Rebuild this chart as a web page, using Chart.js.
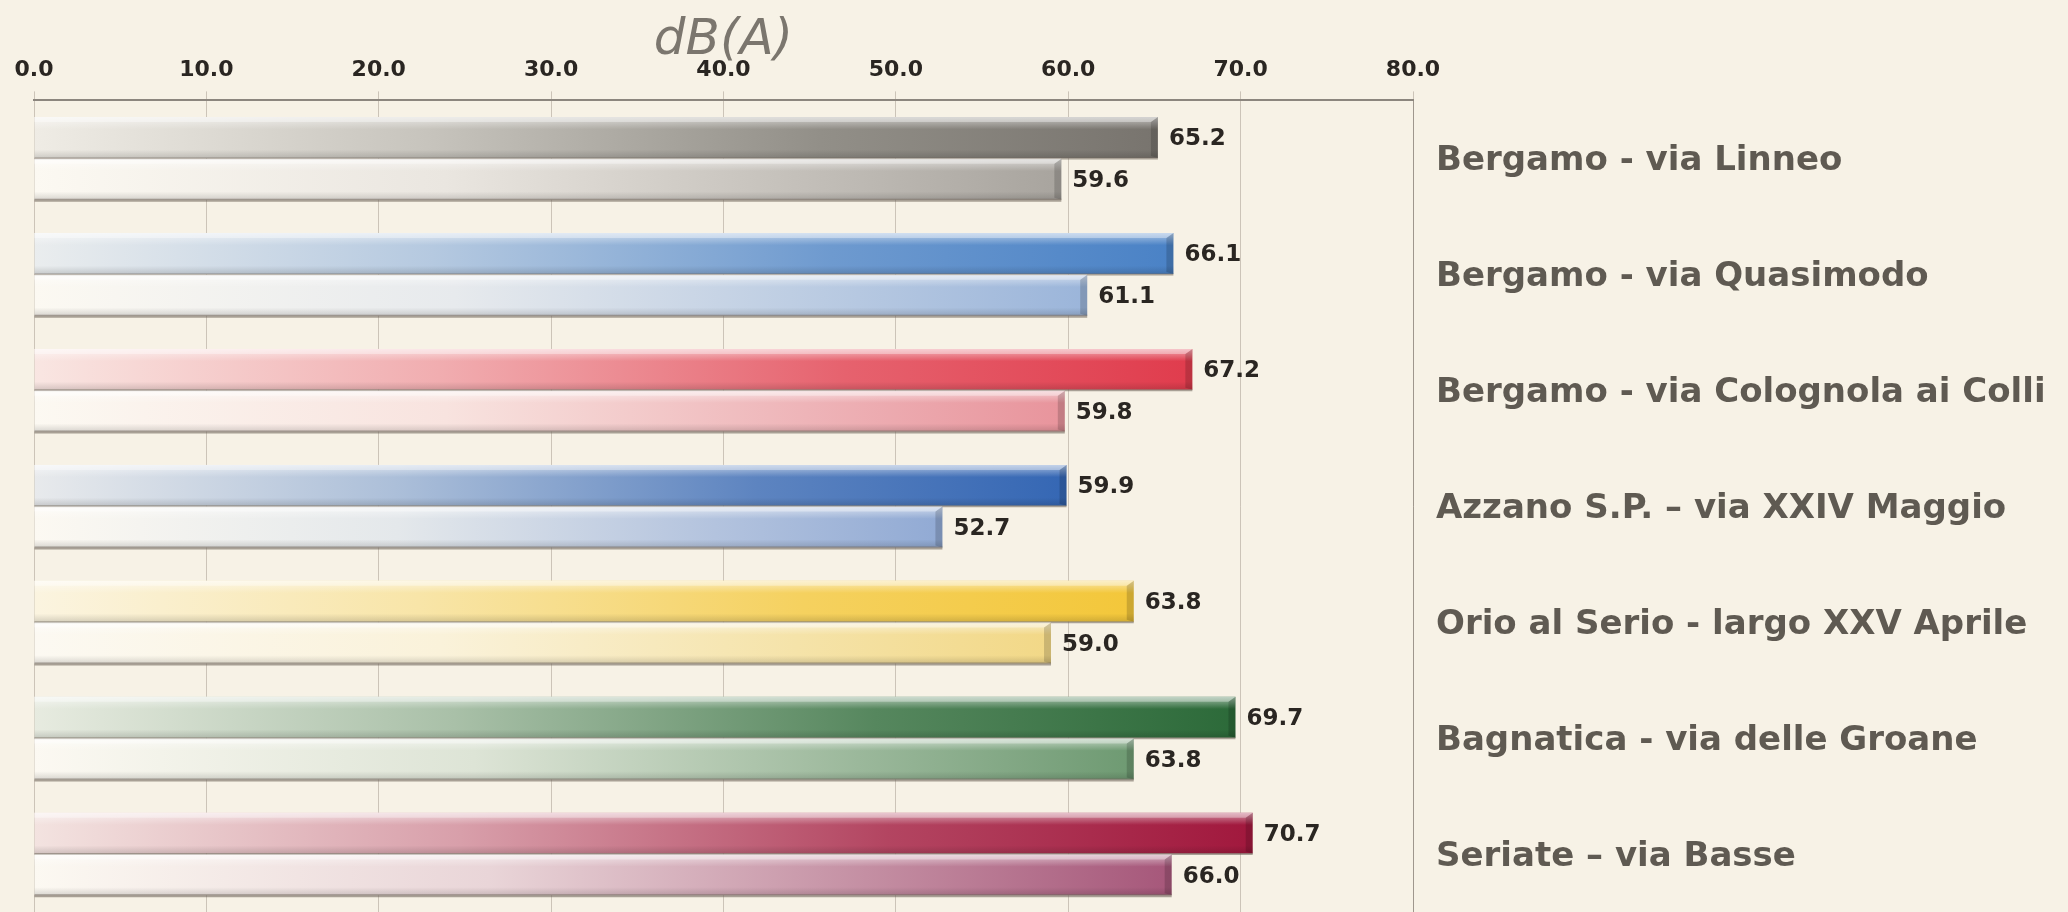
<!DOCTYPE html>
<html>
<head>
<meta charset="utf-8">
<script src="https://cdn.jsdelivr.net/npm/chart.js@4.4.1/dist/chart.umd.min.js"></script>
<style>
  html, body { margin: 0; padding: 0; background: #f7f2e6; }
  #wrap { width: 2068px; height: 912px; position: relative; }
</style>
</head>
<body>
<div id="wrap"><canvas id="c"></canvas></div>
<script>
const categories = [
  'Bergamo - via Linneo',
  'Bergamo - via Quasimodo',
  'Bergamo - via Colognola ai Colli',
  'Azzano S.P. \u2013 via XXIV Maggio',
  'Orio al Serio - largo XXV Aprile',
  'Bagnatica - via delle Groane',
  'Seriate \u2013 via Basse'
];
const seriesA = [65.2, 66.1, 67.2, 59.9, 63.8, 69.7, 70.7];
const seriesB = [59.6, 61.1, 59.8, 52.7, 59.0, 63.8, 66.0];
const xTickMin = 0, xTickMax = 80, xTickStep = 10;
const axisTitle = 'dB(A)';

const darkColors  = ['#78746e', '#4a82c6', '#e03c4d', '#3567b4', '#f3c73a', '#2c6a39', '#a1183d'];
const lightColors = ['#a8a49e', '#9bb5da', '#e8949c', '#91aad4', '#f2d887', '#6e9a72', '#a6577a'];

function hexToRgb(h) {
  h = h.replace('#', '');
  return [parseInt(h.substr(0,2),16), parseInt(h.substr(2,2),16), parseInt(h.substr(4,2),16)];
}
function mix(hex, t) {
  const c = hexToRgb(hex);
  const w = [252, 249, 242];
  const r = c.map((v, i) => Math.round(w[i] + (v - w[i]) * t));
  return 'rgb(' + r.join(',') + ')';
}

function makeBg(colors, stops) {
  return function(ctx) {
    const chart = ctx.chart;
    const area = chart.chartArea;
    const col = colors[ctx.dataIndex];
    if (!area || ctx.raw === undefined) return col;
    const xs = chart.scales.x;
    const x0 = xs.getPixelForValue(0);
    const x1 = xs.getPixelForValue(ctx.raw);
    const g = chart.ctx.createLinearGradient(x0, 0, Math.max(x1, x0 + 1), 0);
    stops.forEach(s => g.addColorStop(s[0], mix(col, s[1])));
    return g;
  };
}

const barFx = {
  id: 'barFx',
  afterDatasetsDraw(chart) {
    const ctx = chart.ctx;
    chart.data.datasets.forEach((ds, di) => {
      const meta = chart.getDatasetMeta(di);
      meta.data.forEach((el, i) => {
        const p = el.getProps(['x', 'y', 'base', 'height'], true);
        const top = p.y - p.height / 2, bot = p.y + p.height / 2;
        const left = p.base, right = p.x;
        ctx.save();
        let g = ctx.createLinearGradient(0, top, 0, top + p.height * 0.3);
        g.addColorStop(0, 'rgba(255,255,255,0.55)');
        g.addColorStop(1, 'rgba(255,255,255,0)');
        ctx.fillStyle = g;
        ctx.fillRect(left, top, right - left, p.height * 0.3);
        g = ctx.createLinearGradient(0, bot - p.height * 0.2, 0, bot);
        g.addColorStop(0, 'rgba(0,0,0,0)');
        g.addColorStop(1, 'rgba(0,0,0,0.14)');
        ctx.fillStyle = g;
        ctx.fillRect(left, bot - p.height * 0.2, right - left, p.height * 0.2);
        ctx.fillStyle = 'rgba(0,0,0,0.16)';
        ctx.beginPath();
        ctx.moveTo(right - 7, top + 5);
        ctx.lineTo(right, top);
        ctx.lineTo(right, bot);
        ctx.lineTo(right - 7, bot - 2);
        ctx.closePath();
        ctx.fill();
        ctx.fillStyle = 'rgba(255,255,255,0.35)';
        ctx.beginPath();
        ctx.moveTo(left, top);
        ctx.lineTo(right, top);
        ctx.lineTo(right - 7, top + 5);
        ctx.lineTo(left, top + 5);
        ctx.closePath();
        ctx.fill();
        ctx.strokeStyle = 'rgba(115,105,95,0.6)';
        ctx.lineWidth = di === 1 ? 3 : 2;
        ctx.beginPath();
        ctx.moveTo(left, bot + 0.5);
        ctx.lineTo(right, bot + 0.5);
        ctx.stroke();
        ctx.fillStyle = '#2a2622';
        ctx.font = 'bold 23px "DejaVu Sans"';
        ctx.textAlign = 'left';
        ctx.textBaseline = 'middle';
        ctx.fillText(ds.data[i].toFixed(1), right + 11, p.y + 2);
        ctx.restore();
      });
    });
  }
};

new Chart(document.getElementById('c'), {
  type: 'bar',
  data: {
    labels: categories,
    datasets: [
      { label: 'A', data: seriesA,
        backgroundColor: makeBg(darkColors, [[0, 0.1], [0.35, 0.4], [0.7, 0.8], [1, 1]]),
        borderWidth: 0, categoryPercentage: 0.72, barPercentage: 0.98 },
      { label: 'B', data: seriesB,
        backgroundColor: makeBg(lightColors, [[0, 0.0], [0.4, 0.22], [0.75, 0.68], [1, 1]]),
        borderWidth: 0, categoryPercentage: 0.72, barPercentage: 0.98 }
    ]
  },
  options: {
    indexAxis: 'y',
    responsive: true,
    maintainAspectRatio: false,
    animation: false,
    devicePixelRatio: 1,
    layout: { padding: { left: 34, right: 0, top: 0, bottom: 0 } },
    plugins: {
      legend: { display: false },
      tooltip: { enabled: false },
      title: {
        display: true,
        text: axisTitle,
        fullSize: false,
        color: '#7b766e',
        font: { family: '"DejaVu Sans"', style: 'italic', weight: 'normal', size: 50, lineHeight: 1 },
        padding: { top: 16, bottom: -17 }
      }
    },
    scales: {
      x: {
        position: 'top',
        min: xTickMin, max: xTickMax,
        ticks: {
          stepSize: xTickStep,
          callback: v => Number(v).toFixed(1),
          color: '#2a2622',
          font: { family: '"DejaVu Sans"', weight: 'bold', size: 22 },
          padding: 8,
          maxRotation: 0
        },
        grid: { color: 'rgba(150,140,128,0.45)', lineWidth: 1, tickLength: 9, drawTicks: true },
        border: { display: true, color: '#8c867e', width: 2 },
        afterFit(scale) { scale.paddingLeft = 0; scale.paddingRight = 0; }
      },
      y: {
        position: 'right',
        grid: { display: false, drawTicks: false },
        border: { display: true, color: 'rgba(140,132,122,0.7)', width: 1 },
        ticks: {
          color: '#5f5a52',
          font: { family: '"DejaVu Sans"', weight: 'bold', size: 34 },
          padding: 23,
          labelOffset: 3
        },
        afterFit(scale) { scale.width = 655; scale.paddingTop = 0; scale.paddingBottom = 0; }
      }
    }
  },
  plugins: [barFx]
});
</script>
</body>
</html>
